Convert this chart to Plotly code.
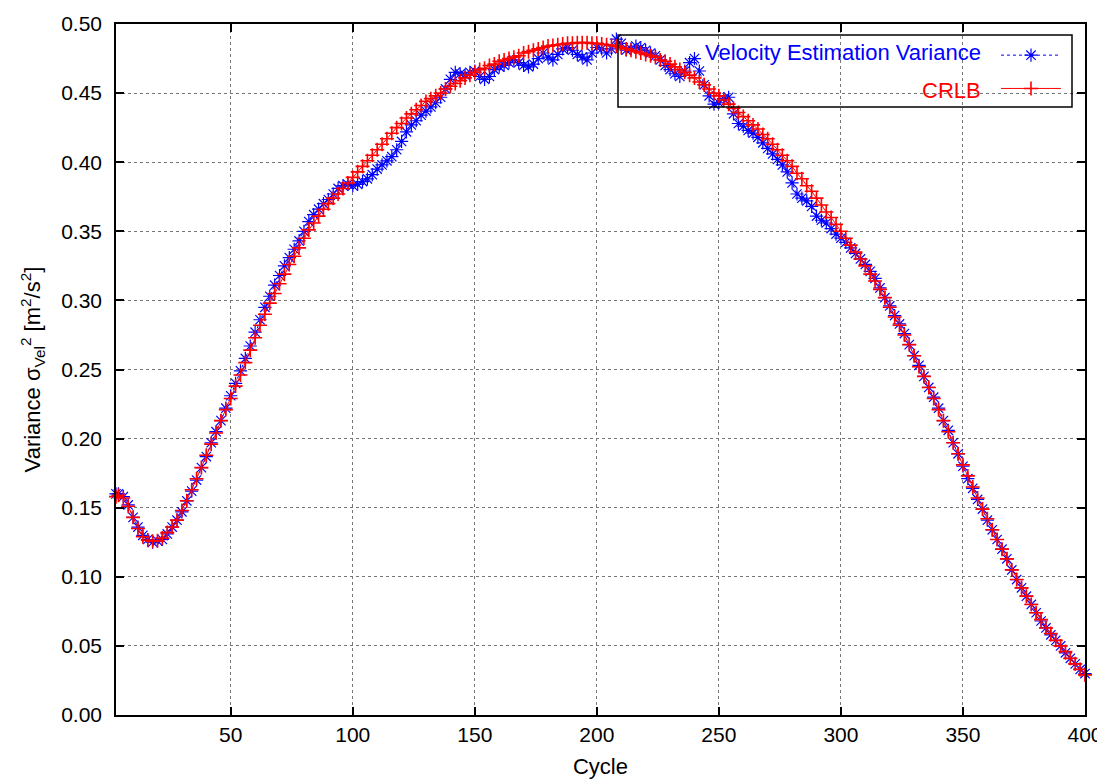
import plotly.graph_objects as go

# Cycle positions (first sample at 3, then every 2 cycles up to 400)
cycles = [3] + list(range(4, 401, 2))

velocity_variance = [
    0.160, 0.160, 0.158, 0.152, 0.143, 0.136, 0.130, 0.127, 0.125, 0.126,
    0.127, 0.131, 0.136, 0.141, 0.147, 0.155, 0.162, 0.170, 0.179, 0.187,
    0.197, 0.205, 0.213, 0.222, 0.231, 0.240, 0.249, 0.258, 0.267, 0.277,
    0.286, 0.295, 0.303, 0.311, 0.318, 0.325, 0.331, 0.337, 0.343, 0.350,
    0.357, 0.362, 0.366, 0.370, 0.373, 0.377, 0.381, 0.383, 0.384, 0.383,
    0.384, 0.386, 0.388, 0.391, 0.395, 0.398, 0.401, 0.404, 0.409, 0.415,
    0.422, 0.427, 0.430, 0.434, 0.437, 0.440, 0.443, 0.447, 0.453, 0.460,
    0.465, 0.464, 0.463, 0.465, 0.466, 0.462, 0.460, 0.462, 0.467, 0.469,
    0.470, 0.472, 0.474, 0.472, 0.470, 0.469, 0.471, 0.475, 0.479, 0.476,
    0.474, 0.478, 0.482, 0.483, 0.481, 0.478, 0.476, 0.474, 0.479, 0.483,
    0.482, 0.479, 0.482, 0.489, 0.486, 0.481, 0.482, 0.484, 0.483, 0.481,
    0.479, 0.477, 0.474, 0.470, 0.467, 0.464, 0.462, 0.466, 0.472, 0.475,
    0.466, 0.456, 0.448, 0.442, 0.443, 0.446, 0.447, 0.435, 0.428, 0.426,
    0.423, 0.421, 0.418, 0.414, 0.410, 0.406, 0.402, 0.398, 0.393, 0.385,
    0.377, 0.374, 0.372, 0.368, 0.361, 0.358, 0.356, 0.352, 0.348, 0.345,
    0.342, 0.338, 0.334, 0.330, 0.326, 0.321, 0.316, 0.309, 0.302, 0.296,
    0.289, 0.283, 0.276, 0.268, 0.260, 0.253, 0.245, 0.237, 0.230, 0.222,
    0.213, 0.206, 0.197, 0.189, 0.180, 0.171, 0.164, 0.156, 0.149, 0.141,
    0.134, 0.127, 0.120, 0.113, 0.105, 0.098, 0.092, 0.086, 0.080, 0.074,
    0.068, 0.063, 0.058, 0.054, 0.050, 0.045, 0.041, 0.037, 0.033, 0.030,
]

crlb = [
    0.158, 0.159, 0.157, 0.151, 0.143, 0.135, 0.129, 0.1265, 0.1257, 0.126,
    0.128, 0.132, 0.136, 0.141, 0.148, 0.155, 0.163, 0.171, 0.179, 0.188,
    0.196, 0.204, 0.213, 0.221, 0.229, 0.238, 0.246, 0.255, 0.264, 0.273,
    0.282, 0.290, 0.298, 0.305, 0.312, 0.319, 0.326, 0.332, 0.338, 0.345,
    0.351, 0.356, 0.361, 0.366, 0.370, 0.374, 0.377, 0.381, 0.385, 0.389,
    0.393, 0.397, 0.401, 0.405, 0.409, 0.413, 0.417, 0.421, 0.425, 0.428,
    0.432, 0.435, 0.438, 0.441, 0.444, 0.446, 0.448, 0.450, 0.453, 0.455,
    0.457, 0.459, 0.461, 0.463, 0.465, 0.467, 0.468, 0.470, 0.471, 0.473,
    0.474, 0.475, 0.476, 0.477, 0.479, 0.480, 0.481, 0.482, 0.483, 0.484,
    0.4845, 0.485, 0.4855, 0.486, 0.486, 0.4865, 0.4865, 0.4865, 0.486, 0.486,
    0.4855, 0.485, 0.4845, 0.484, 0.483, 0.482, 0.481, 0.480, 0.479, 0.478,
    0.477, 0.476, 0.474, 0.473, 0.471, 0.469, 0.467, 0.465, 0.463, 0.461,
    0.458, 0.456, 0.453, 0.450, 0.448, 0.445, 0.442, 0.439, 0.436, 0.433,
    0.430, 0.427, 0.424, 0.420, 0.417, 0.413, 0.409, 0.405, 0.401, 0.397,
    0.392, 0.388, 0.383, 0.379, 0.374, 0.369, 0.364, 0.360, 0.355, 0.350,
    0.345, 0.340, 0.335, 0.330, 0.325, 0.319, 0.314, 0.308, 0.302, 0.295,
    0.288, 0.282, 0.275, 0.268, 0.260, 0.252, 0.245, 0.237, 0.229, 0.221,
    0.213, 0.205, 0.197, 0.189, 0.181, 0.173, 0.165, 0.157, 0.149, 0.142,
    0.134, 0.127, 0.120, 0.113, 0.105, 0.098, 0.092, 0.086, 0.080, 0.074,
    0.069, 0.063, 0.059, 0.054, 0.050, 0.046, 0.041, 0.037, 0.033, 0.029,
]

x_ticks = [50, 100, 150, 200, 250, 300, 350, 400]
y_ticks = [0.00, 0.05, 0.10, 0.15, 0.20, 0.25, 0.30, 0.35, 0.40, 0.45, 0.50]

series_names = ["Velocity Estimation Variance", "CRLB"]
series_colors = ["#0000ff", "#ff0000"]

FONT = "Liberation Sans, Arial, Helvetica, sans-serif"

# page body has an 8px margin: figure is sized so it fits the 1105x779 window
W, H = 1097, 771
OFF = 8
PL, PR, PT, PB = 116, 1085, 24, 715   # plot area in window pixels
PW, PH = PR - PL, PB - PT


def px_x(px):
    return (px - PL) / PW


def px_y(py):
    return (PB - py) / PH


fig = go.Figure()
fig.add_trace(go.Scatter(
    x=cycles, y=velocity_variance, mode="lines+markers", name=" ",
    legendgroup="a",
    line=dict(color=series_colors[0], width=1, dash="dot"),
    marker=dict(symbol="asterisk-open", size=11, color=series_colors[0],
                line=dict(color=series_colors[0], width=1.2)),
    cliponaxis=False,
))
fig.add_trace(go.Scatter(
    x=cycles, y=crlb, mode="lines+markers", name=" ",
    legendgroup="b",
    line=dict(color=series_colors[1], width=1),
    marker=dict(symbol="cross-thin-open", size=10, color=series_colors[1],
                line=dict(color=series_colors[1], width=1.6)),
    cliponaxis=False,
))

axis_common = dict(
    showline=True, linecolor="black", linewidth=1.5, mirror="ticks",
    ticks="inside", ticklen=8, tickwidth=1.5, tickcolor="black",
    showgrid=True, gridcolor="#777777", griddash="dot", gridwidth=1,
    zeroline=False, automargin=False,
    tickfont=dict(family=FONT, size=21, color="black"),
)

fig.update_layout(
    template="none",
    width=W, height=H,
    margin=dict(l=PL - OFF, r=W - (PR - OFF), t=PT - OFF, b=H - (PB - OFF),
                autoexpand=False),
    paper_bgcolor="white", plot_bgcolor="white",
    font=dict(family=FONT, size=21, color="black"),
    xaxis=dict(range=[3, 400], tickvals=x_ticks,
               ticktext=[str(v) for v in x_ticks],
               ticklabelstandoff=0,
               title=dict(text="Cycle", standoff=18,
                          font=dict(family=FONT, size=22)),
               **axis_common),
    yaxis=dict(range=[0, 0.5], tickvals=y_ticks,
               ticktext=[f"{v:.2f}" for v in y_ticks],
               ticklabelstandoff=8,
               title=dict(text="Variance σ<sub>Vel</sub><sup>2</sup> [m<sup>2</sup>/s<sup>2</sup>]",
                          standoff=14, font=dict(family=FONT, size=22)),
               **axis_common),
    showlegend=True,
    legend=dict(x=px_x(996), xanchor="left",
                y=px_y(35), yanchor="top",
                bgcolor="rgba(0,0,0,0)", borderwidth=0,
                traceorder="grouped", tracegroupgap=3,
                itemwidth=60,
                font=dict(family=FONT, size=21)),
)

# legend frame and labels (gnuplot style: text on the left, sample on the right)
fig.add_shape(type="rect", xref="paper", yref="paper",
              x0=px_x(618), x1=px_x(1072),
              y0=px_y(107), y1=px_y(35),
              line=dict(color="black", width=1.5), fillcolor="rgba(0,0,0,0)",
              layer="above")
for name, color, ypx in zip(series_names, series_colors, [53, 90]):
    fig.add_annotation(text=name, xref="paper", yref="paper",
                       x=px_x(983), y=px_y(ypx),
                       xanchor="right", yanchor="middle", showarrow=False,
                       font=dict(family=FONT, size=22, color=color))

fig.write_html("out.html")
